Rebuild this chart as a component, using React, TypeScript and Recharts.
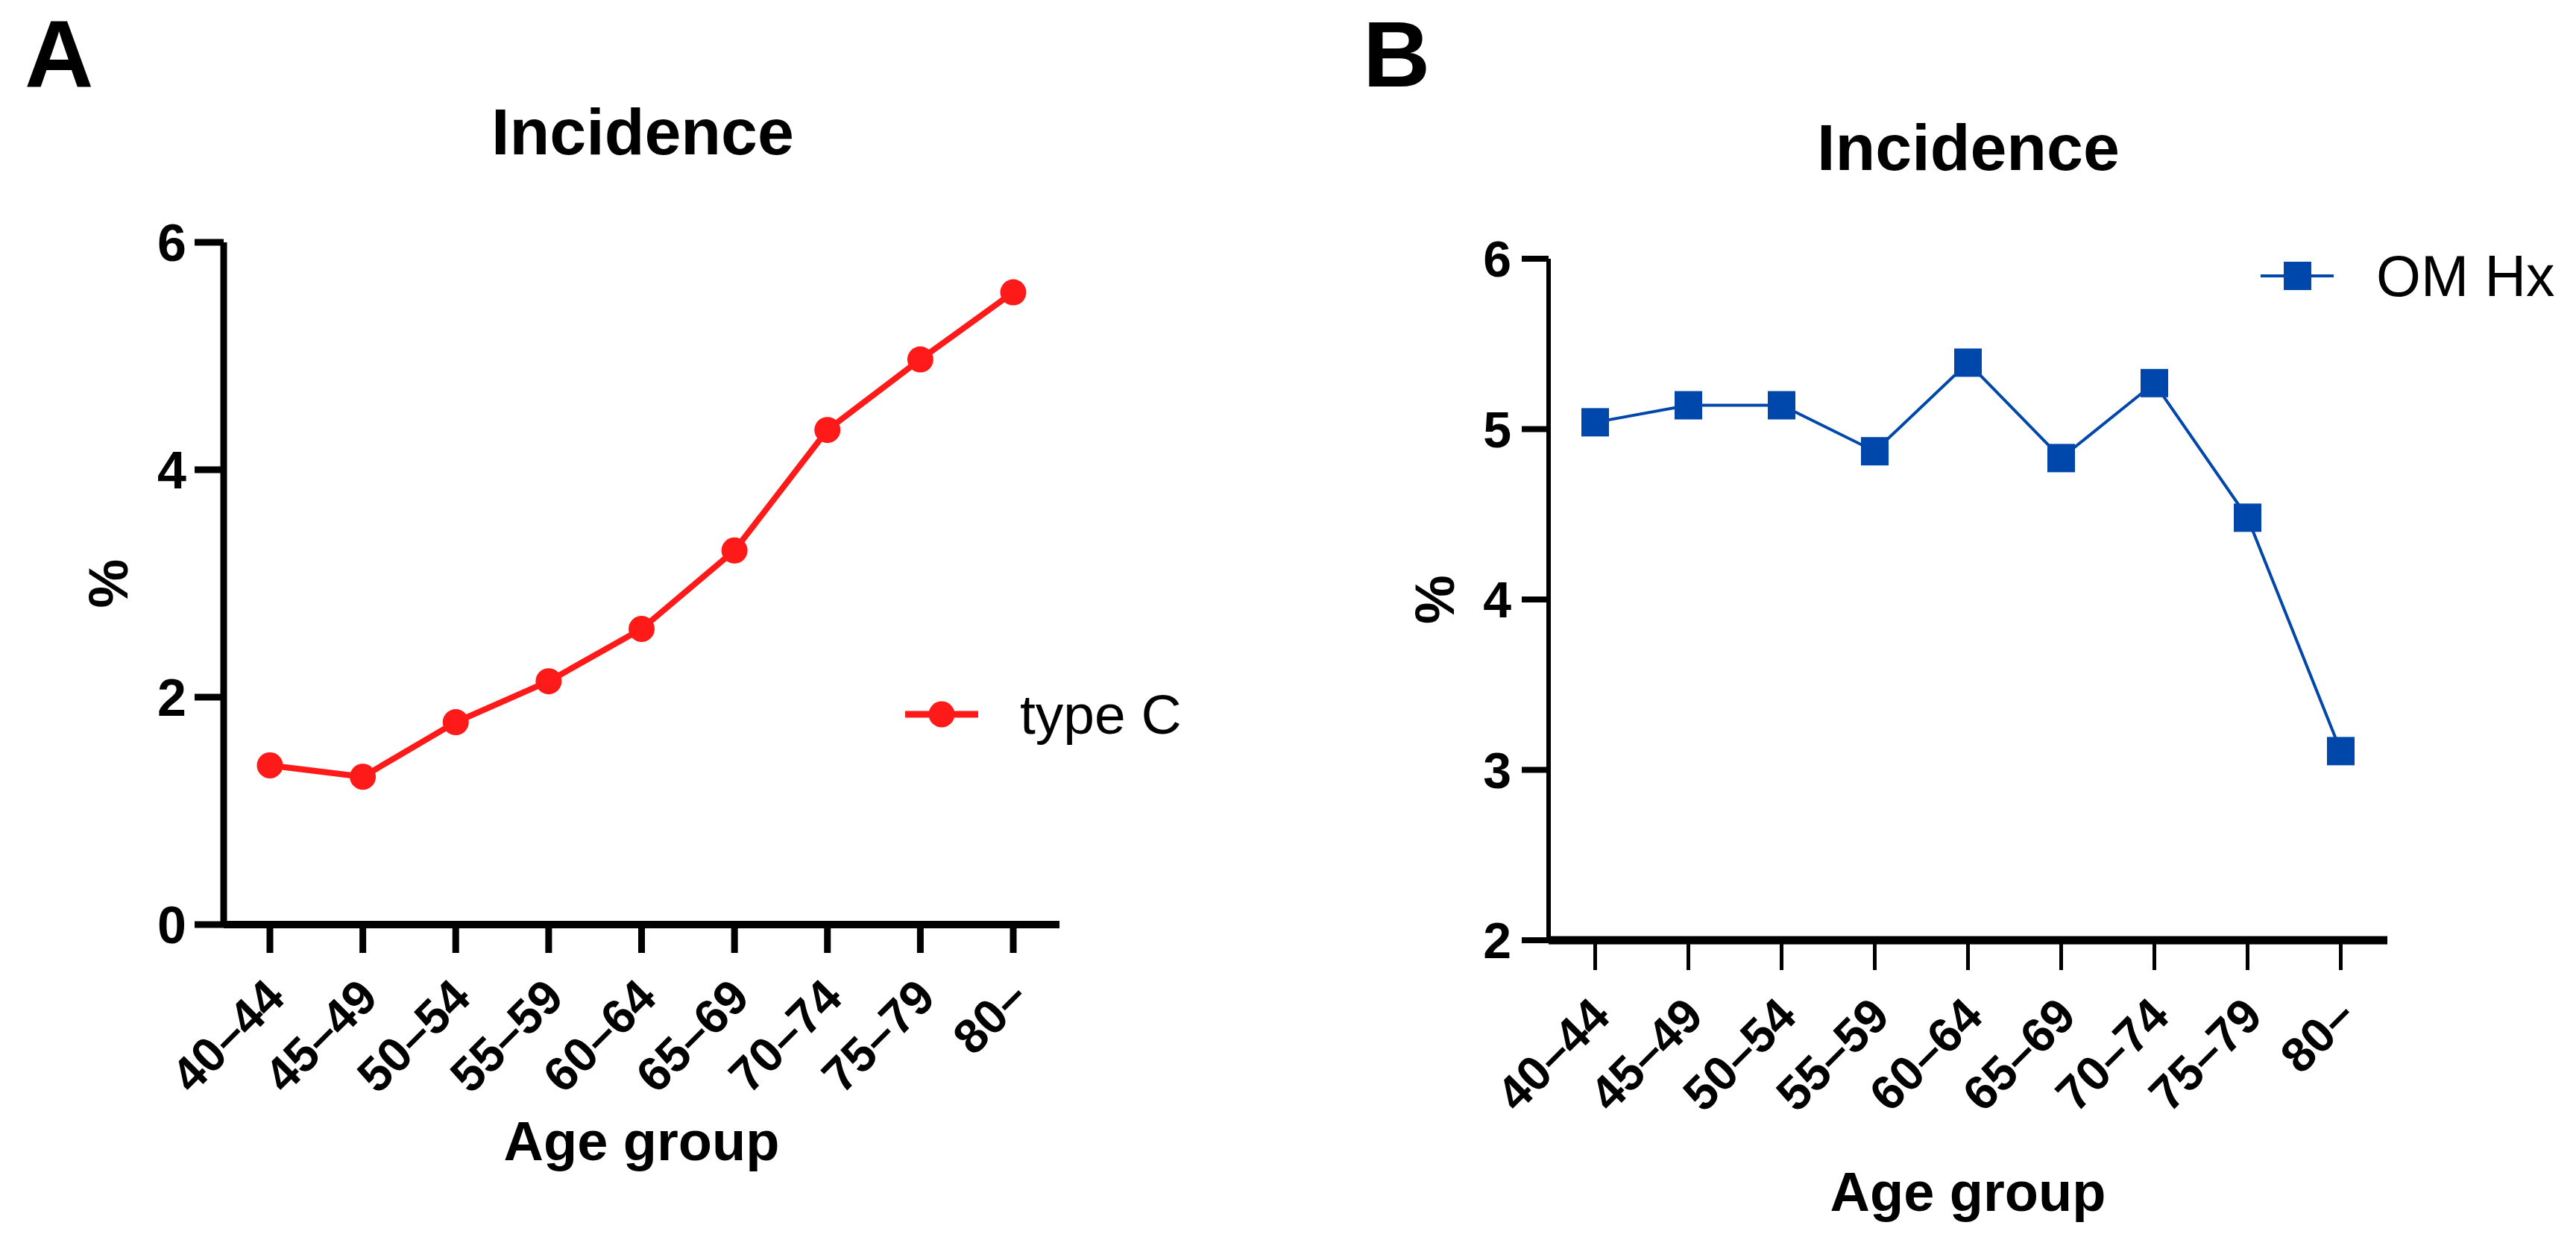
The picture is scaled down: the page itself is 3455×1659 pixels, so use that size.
import React from 'react';
import { LineChart, Line, XAxis, YAxis, Legend } from 'recharts';

const ageGroups = ['40\u201344', '45\u201349', '50\u201354', '55\u201359', '60\u201364', '65\u201369', '70\u201374', '75\u201379', '80\u2013'];
const typeCValues = [1.40, 1.30, 1.78, 2.14, 2.60, 3.29, 4.35, 4.97, 5.56];
const omHxValues = [5.04, 5.14, 5.14, 4.87, 5.39, 4.83, 5.27, 4.48, 3.11];
const yTicksA = [0, 2, 4, 6];
const yTicksB = [2, 3, 4, 5, 6];

const dataA = ageGroups.map((age, i) => ({ age, typeC: typeCValues[i] }));
const dataB = ageGroups.map((age, i) => ({ age, omHx: omHxValues[i] }));

const FONT = '"Liberation Sans", Arial, Helvetica, sans-serif';
const RED = '#FF1A1A';
const BLUE = '#0047AB';

const XTick = (props: any) => {
  const { x, y, payload } = props;
  return (
    <g transform={`translate(${x - 10},${y})`}>
      <text
        transform="rotate(-45)"
        textAnchor="end"
        dy="0.72em"
        fontSize={65}
        fontWeight="bold"
        fontFamily={FONT}
        fill="#000"
      >
        {payload.value}
      </text>
    </g>
  );
};

const SquareDot = (props: any) => {
  const { cx, cy } = props;
  if (cx == null || cy == null) return null;
  return <rect x={cx - 18.5} y={cy - 19} width={37} height={38} fill={BLUE} />;
};

const LegendA = (props: any) => {
  const item = props.payload && props.payload[0];
  return (
    <svg width={420} height={80} style={{ display: 'block', overflow: 'visible' }}>
      <line x1={0} x2={98} y1={40} y2={40} stroke={RED} strokeWidth={9} />
      <circle cx={49} cy={40} r={17.5} fill={RED} />
      <text x={154} y={40} dominantBaseline="central" fontSize={75} fontFamily={FONT} fill="#000">
        {item ? item.value : 'type C'}
      </text>
    </svg>
  );
};

const LegendB = (props: any) => {
  const item = props.payload && props.payload[0];
  return (
    <svg width={420} height={80} style={{ display: 'block', overflow: 'visible' }}>
      <line x1={0} x2={98} y1={40} y2={40} stroke={BLUE} strokeWidth={4} />
      <rect x={31} y={21} width={37} height={38} fill={BLUE} />
      <text x={155} y={40} dominantBaseline="central" fontSize={77} fontFamily={FONT} fill="#000">
        {item ? item.value : 'OM Hx'}
      </text>
    </svg>
  );
};

const makeXLabel = (offset: number) => (props: any) => {
  const vb = props.viewBox || {};
  return (
    <text
      x={vb.x + vb.width / 2}
      y={vb.y + offset}
      textAnchor="middle"
      fontSize={74}
      fontWeight="bold"
      fontFamily={FONT}
      fill="#000"
    >
      Age group
    </text>
  );
};

const makeYLabel = (dx: number) => (props: any) => {
  const vb = props.viewBox || {};
  const cx = vb.x + vb.width + dx;
  const cy = vb.y + vb.height / 2;
  return (
    <text
      x={cx}
      y={cy}
      transform={`rotate(-90, ${cx}, ${cy})`}
      textAnchor="middle"
      dominantBaseline="central"
      fontSize={74}
      fontWeight="bold"
      fontFamily={FONT}
      fill="#000"
    >
      %
    </text>
  );
};

export default function App() {
  return (
    <div
      style={{
        position: 'absolute',
        left: 0,
        top: 0,
        width: 3455,
        height: 1659,
        background: '#fff',
        overflow: 'hidden',
        fontFamily: FONT,
      }}
    >
      {/* Panel A */}
      <div style={{ position: 'absolute', left: 0, top: 0 }}>
        <LineChart
          width={1750}
          height={1659}
          data={dataA}
          margin={{ top: 325, right: 329, bottom: 319, left: 200 }}
        >
          <XAxis
            dataKey="age"
            type="category"
            interval={0}
            height={100}
            padding={{ left: 62, right: 62 }}
            axisLine={{ stroke: '#000', strokeWidth: 10 }}
            tickLine={{ stroke: '#000', strokeWidth: 9 }}
            tickSize={38}
            tickMargin={30}
            tick={<XTick />}
            label={makeXLabel(316)}
          />
          <YAxis
            type="number"
            domain={[0, 6]}
            ticks={yTicksA}
            interval={0}
            width={100}
            axisLine={{ stroke: '#000', strokeWidth: 9 }}
            tickLine={{ stroke: '#000', strokeWidth: 9 }}
            tickSize={39}
            tickMargin={11}
            tick={{ fontSize: 70, fontWeight: 'bold', fill: '#000', fontFamily: FONT }}
            label={makeYLabel(-155)}
          />
          <Legend
            layout="horizontal"
            verticalAlign="middle"
            align="center"
            content={<LegendA />}
            wrapperStyle={{ position: 'absolute', left: 1214, top: 918, width: 420, height: 80 }}
          />
          <Line
            type="linear"
            dataKey="typeC"
            name="type C"
            stroke={RED}
            strokeWidth={8}
            dot={{ r: 17.5, fill: RED, stroke: 'none' }}
            activeDot={false}
            isAnimationActive={false}
          />
        </LineChart>
      </div>

      {/* Panel B */}
      <div style={{ position: 'absolute', left: 1750, top: 0 }}>
        <LineChart
          width={1705}
          height={1659}
          data={dataB}
          margin={{ top: 347, right: 253, bottom: 298, left: 227 }}
        >
          <XAxis
            dataKey="age"
            type="category"
            interval={0}
            height={100}
            padding={{ left: 62.5, right: 62.5 }}
            axisLine={{ stroke: '#000', strokeWidth: 11 }}
            tickLine={{ stroke: '#000', strokeWidth: 5 }}
            tickSize={40}
            tickMargin={32}
            tick={<XTick />}
            label={makeXLabel(363)}
          />
          <YAxis
            type="number"
            domain={[2, 6]}
            ticks={yTicksB}
            interval={0}
            width={100}
            axisLine={{ stroke: '#000', strokeWidth: 6 }}
            tickLine={{ stroke: '#000', strokeWidth: 8 }}
            tickSize={36}
            tickMargin={14}
            tick={{ fontSize: 68, fontWeight: 'bold', fill: '#000', fontFamily: FONT }}
            label={makeYLabel(-153)}
          />
          <Legend
            layout="horizontal"
            verticalAlign="middle"
            align="center"
            content={<LegendB />}
            wrapperStyle={{ position: 'absolute', left: 1282, top: 330, width: 420, height: 80 }}
          />
          <Line
            type="linear"
            dataKey="omHx"
            name="OM Hx"
            stroke={BLUE}
            strokeWidth={4}
            dot={<SquareDot />}
            activeDot={false}
            isAnimationActive={false}
          />
        </LineChart>
      </div>

      {/* Titles and panel letters */}
      <svg
        width={3455}
        height={1659}
        style={{ position: 'absolute', left: 0, top: 0, pointerEvents: 'none' }}
      >
        <text x={33} y={117} fontSize={128} fontWeight="bold" fontFamily={FONT} fill="#000">A</text>
        <text x={1828} y={116} fontSize={125} fontWeight="bold" fontFamily={FONT} fill="#000">B</text>
        <text x={862} y={207} textAnchor="middle" fontSize={88} fontWeight="bold" fontFamily={FONT} fill="#000">Incidence</text>
        <text x={2640} y={228} textAnchor="middle" fontSize={88} fontWeight="bold" fontFamily={FONT} fill="#000">Incidence</text>
      </svg>
    </div>
  );
}
